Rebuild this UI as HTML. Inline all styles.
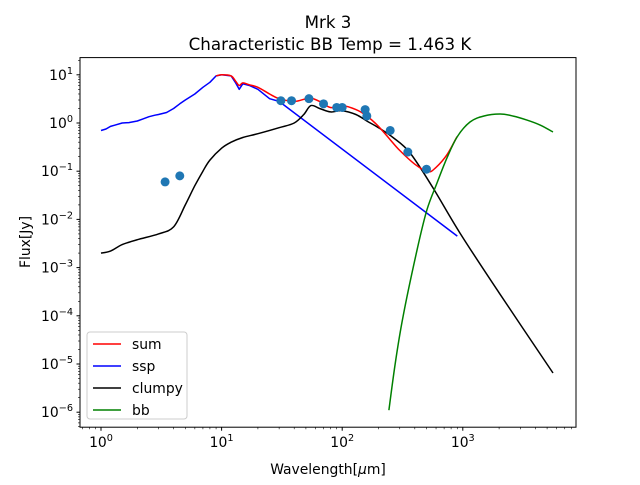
<!DOCTYPE html>
<html><head><meta charset="utf-8"><style>
body{margin:0;background:#fff}
svg text{font-family:"DejaVu Sans","Liberation Sans",sans-serif;fill:#000}
</style></head><body>
<svg id="c" width="640" height="480" xmlns="http://www.w3.org/2000/svg">
<rect width="640" height="480" fill="#fff"/>
<text x="328" y="28" font-size="16.7" text-anchor="middle">Mrk 3</text>
<text x="330" y="50" font-size="16.7" text-anchor="middle">Characteristic BB Temp = 1.463 K</text>
<g id="plot"></g>
<rect x="80" y="57.6" width="496" height="369.6" fill="none" stroke="#000" stroke-width="1"/>
<text x="328" y="474" font-size="13.9" text-anchor="middle">Wavelength[<tspan font-style="italic">μ</tspan>m]</text>
<text transform="translate(30,242) rotate(-90)" font-size="13.9" text-anchor="middle">Flux[Jy]</text>
<g>
<rect x="87" y="332" width="100" height="87" rx="3" fill="#fff" fill-opacity="0.8" stroke="#ccc"/>
<line x1="93" y1="344" x2="121" y2="344" stroke="red" stroke-width="1.5"/>
<text x="132" y="349" font-size="13.9">sum</text>
<line x1="93" y1="366" x2="121" y2="366" stroke="blue" stroke-width="1.5"/>
<text x="132" y="371" font-size="13.9">ssp</text>
<line x1="93" y1="388" x2="121" y2="388" stroke="#000" stroke-width="1.5"/>
<text x="132" y="393" font-size="13.9">clumpy</text>
<line x1="93" y1="410" x2="121" y2="410" stroke="green" stroke-width="1.5"/>
<text x="132" y="415" font-size="13.9">bb</text>
</g>
</svg>
<script>
const sspX=[1,1.1,1.2,1.3,1.5,1.7,2,2.2,2.5,2.8,3,3.5,4,4.5,5,6,7,8,9,10,12,13,14,15,17,20,25,30,900];
const sspY=[0.7,0.75,0.85,0.9,1.0,1.02,1.1,1.2,1.35,1.45,1.5,1.65,2.0,2.5,3,4,5.5,7,9.5,10,9.5,7,5,6.5,6,5,3.2,2.8,0.0045];
const clumpyX=[1,1.2,1.5,2,3,4,5,6,7,8,10,12,15,20,30,40,48,55,65,80,100,130,160,200,264,365,566,948,2000,5600];
const clumpyY=[0.002,0.0022,0.003,0.0038,0.005,0.007,0.02,0.05,0.1,0.17,0.3,0.4,0.5,0.6,0.8,1.0,1.5,2.3,2.0,1.7,1.8,1.5,1.1,0.8,0.5,0.24,0.045,0.0052,0.0003,0.0000065];
const bbX=[244,274,319,417,505,611,740,895,1148,1500,2040,2600,3400,4400,5600];
const bbY=[0.0000011,0.0000095,0.000095,0.0023,0.016,0.057,0.19,0.51,1.05,1.4,1.54,1.4,1.15,0.9,0.65];
const sumX=[9,10,12,13,14,15,17,20,25,30,40,50,55,65,80,100,130,160,200,250,300,400,513,600,740,895];
const sumY=[9.5,10,9.5,7.5,6,6.8,6.2,5.5,4,3.2,2.8,3.2,3.3,2.8,2.1,2.3,1.9,1.4,0.85,0.45,0.27,0.14,0.097,0.12,0.22,0.52];
const obsX=[3.4,4.5,31,38,53,70,90,100,155,160,250,350,500];
const obsY=[0.06,0.08,2.9,2.9,3.2,2.5,2.1,2.1,1.9,1.4,0.7,0.25,0.11];
const xTicks=[0,1,2,3];
const yTicks=[-6,-5,-4,-3,-2,-1,0,1];
const NS='http://www.w3.org/2000/svg';
const px=v=>101+120.6*Math.log10(v);
const py=v=>123-48.2*Math.log10(v);
const g=document.getElementById('plot');
function mk(t,a){const e=document.createElementNS(NS,t);for(const k in a)e.setAttribute(k,a[k]);g.appendChild(e);return e;}
xTicks.forEach(d=>{
  const x=px(Math.pow(10,d));
  const t=mk('line',{x1:x,y1:427.2,x2:x,y2:430.7,stroke:'#000'});
  
  
  const l=mk('text',{x:x,y:447,'font-size':13.9,'text-anchor':'middle'});
  
  
  l.innerHTML='10<tspan dy="-6" font-size="9.7">'+d+'</tspan>';
  for(let m=2;m<=9;m++){const xm=px(m*Math.pow(10,d));if(xm<576){
    const mt=mk('line',{x1:xm,y1:427.2,x2:xm,y2:429.2,stroke:'#000','stroke-width':0.6});
    
    }}
});
for(let m=2;m<=9;m++){const xm=px(m*0.1);if(xm>80){const mt=mk('line',{x1:xm,y1:427.2,x2:xm,y2:429.2,stroke:'#000','stroke-width':0.6});
  
  }}
yTicks.forEach(d=>{
  const y=py(Math.pow(10,d));
  const t=mk('line',{x1:76.5,y1:y,x2:80,y2:y,stroke:'#000'});
  
  
  const l=mk('text',{x:73,y:y+5,'font-size':13.9,'text-anchor':'end'});
  
  
  l.innerHTML='10<tspan dy="-6" font-size="9.7">'+(d<0?'\u2212'+(-d):d)+'</tspan>';
  for(let m=2;m<=9;m++){const ym=py(m*Math.pow(10,d));if(ym>57.6){
    const mt=mk('line',{x1:78,y1:ym,x2:80,y2:ym,stroke:'#000','stroke-width':0.6});
    
    }}
});
for(let m=2;m<=9;m++){const ym=py(m*1e-7);if(ym<427.2){const mt=mk('line',{x1:78,y1:ym,x2:80,y2:ym,stroke:'#000','stroke-width':0.6});
  
  }}
function line(X,Y,c,name,smooth){
  const P=X.map((x,i)=>[px(x),py(Y[i])]);
  let d='M'+P[0][0].toFixed(1)+','+P[0][1].toFixed(1);
  for(let i=0;i<P.length-1;i++){
    if(!smooth){d+='L'+P[i+1][0].toFixed(1)+','+P[i+1][1].toFixed(1);continue;}
    const p0=P[Math.max(0,i-1)],p1=P[i],p2=P[i+1],p3=P[Math.min(P.length-1,i+2)];
    const c1=[p1[0]+(p2[0]-p0[0])/6,p1[1]+(p2[1]-p0[1])/6];
    const c2=[p2[0]-(p3[0]-p1[0])/6,p2[1]-(p3[1]-p1[1])/6];
    d+='C'+c1.map(v=>v.toFixed(1))+' '+c2.map(v=>v.toFixed(1))+' '+p2.map(v=>v.toFixed(1));
  }
  const p=mk('path',{d:d,fill:'none',stroke:c,'stroke-width':1.5,'stroke-linejoin':'round'});
  
  
}
line(sspX,sspY,'blue','ssp-line',false);
line(clumpyX,clumpyY,'#000','clumpy-line',true);
line(sumX,sumY,'red','sum-line',true);
line(bbX,bbY,'green','bb-line',true);
obsX.forEach((x,i)=>{
  const c=mk('circle',{cx:px(x),cy:py(obsY[i]),r:4.5,fill:'#1f77b4'});
  
  
});
</script>
</body></html>
